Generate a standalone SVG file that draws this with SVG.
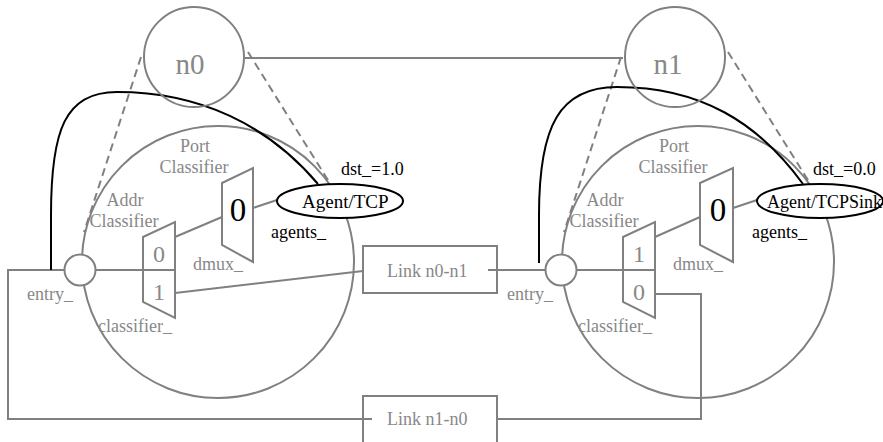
<svg xmlns="http://www.w3.org/2000/svg" width="883" height="442" viewBox="0 0 883 442">
  <style>
    .g { fill: none; stroke: #808080; stroke-width: 2; }
    .gw { fill: #fff; stroke: #808080; stroke-width: 2; }
    .dash { fill: none; stroke: #808080; stroke-width: 2; stroke-dasharray: 8 5; }
    .blk { fill: none; stroke: #000; stroke-width: 2; }
    .agent { fill: #fff; stroke: #000; stroke-width: 2; }
    text { font-size: 18px; }
    .tg { fill: #888; }
    .tb { fill: #000; }
    .node-label { font-size: 29px; fill: #888; text-anchor: middle; }
    .port { font-size: 24px; fill: #888; text-anchor: middle; }
    .slot { font-size: 33px; fill: #000; text-anchor: middle; }
    .mid { text-anchor: middle; }
  </style>

  <!-- expanded node bodies -->
  <g id="node0-body">
    <circle class="g" cx="218" cy="262" r="136"/>
  </g>
  <g id="node1-body">
    <circle class="g" cx="698" cy="262" r="136"/>
  </g>

  <!-- links and wiring -->
  <g id="connectors">
    <!-- n0 to n1 -->
    <line class="g" x1="245" y1="58" x2="623" y2="58"/>
    <!-- expansion guides -->
    <line class="dash" x1="141" y1="57" x2="84" y2="232"/>
    <line class="dash" x1="248" y1="52" x2="331" y2="185"/>
    <line class="dash" x1="621" y1="57" x2="564" y2="232"/>
    <line class="dash" x1="728" y1="52" x2="811" y2="185"/>
    <!-- node 0 internals -->
    <line class="g" x1="95" y1="270" x2="175" y2="270"/>
    <line class="g" x1="175" y1="237" x2="222" y2="217"/>
    <line class="g" x1="253" y1="208" x2="277" y2="200"/>
    <line class="g" x1="175" y1="293" x2="363" y2="271"/>
    <!-- link n0-n1 to entry of node 1 -->
    <line class="g" x1="488" y1="270" x2="545" y2="270"/>
    <!-- node 1 internals -->
    <line class="g" x1="577" y1="270" x2="655" y2="270"/>
    <line class="g" x1="655" y1="237" x2="700" y2="217"/>
    <line class="g" x1="733" y1="208" x2="757" y2="200"/>
    <!-- return path through link n1-n0 -->
    <polyline class="g" points="655,294 701,294 701,419 497,419"/>
    <polyline class="g" points="372,419 8,419 8,270 64,270"/>
    <!-- agent attachment to entry -->
    <path class="blk" d="M51,270 L51,215 C51,130 65,92 117,92 C200,92 268,125 318,184"/>
    <path class="blk" d="M539,263 L539,215 C539,125 560,87 617,87 C700,87 758,122 803,184"/>
  </g>

  <g font-family="'Liberation Serif', 'Times New Roman', 'DejaVu Serif', serif">
  <g id="n0">
    <circle class="g" cx="194" cy="57" r="50"/>
    <text class="node-label" x="190" y="74">n0</text>
  </g>
  <g id="n1">
    <circle class="g" cx="675" cy="57" r="50"/>
    <text class="node-label" x="668" y="74">n1</text>
  </g>

  <g id="link-n0-n1">
    <rect class="g" x="363" y="246" width="134" height="47"/>
    <text class="tg" x="387" y="277">Link n0-n1</text>
  </g>
  <g id="link-n1-n0">
    <rect class="g" x="363" y="396" width="134" height="60"/>
    <text class="tg" x="387" y="425">Link n1-n0</text>
  </g>

  <!-- node 0 parts -->
  <g id="entry0">
    <circle class="gw" cx="80" cy="270" r="15.5"/>
    <text class="tg" x="27" y="300">entry_</text>
  </g>
  <g id="classifier0">
    <polygon class="gw" points="143,237 175,222 175,318 143,302"/>
    <line class="g" x1="143" y1="270" x2="175" y2="270"/>
    <text class="port" x="159" y="262">0</text>
    <text class="port" x="159" y="300">1</text>
    <text class="tg mid" x="125" y="206">Addr</text>
    <text class="tg mid" x="124" y="227">Classifier</text>
    <text class="tg" x="98" y="332">classifier_</text>
  </g>
  <g id="dmux0">
    <polygon class="gw" points="222,183 253,168 253,262 222,245"/>
    <text class="slot" x="238" y="221">0</text>
    <text class="tg mid" x="195" y="152">Port</text>
    <text class="tg mid" x="194" y="173">Classifier</text>
    <text class="tg" x="193" y="270">dmux_</text>
    <text class="tb" x="271" y="238">agents_</text>
  </g>
  <g id="agent0">
    <ellipse class="agent" cx="340" cy="201" rx="63" ry="17"/>
    <text class="tb" x="302" y="208" style="font-size:19px">Agent/TCP</text>
    <text class="tb" x="341" y="175">dst_=1.0</text>
  </g>

  <!-- node 1 parts -->
  <g id="entry1">
    <circle class="gw" cx="561" cy="270" r="15.5"/>
    <text class="tg" x="507" y="300">entry_</text>
  </g>
  <g id="classifier1">
    <polygon class="gw" points="623,237 655,222 655,318 623,302"/>
    <line class="g" x1="623" y1="270" x2="655" y2="270"/>
    <text class="port" x="639" y="262">1</text>
    <text class="port" x="639" y="300">0</text>
    <text class="tg mid" x="605" y="206">Addr</text>
    <text class="tg mid" x="604" y="227">Classifier</text>
    <text class="tg" x="578" y="332">classifier_</text>
  </g>
  <g id="dmux1">
    <polygon class="gw" points="700,183 733,168 733,262 700,245"/>
    <text class="slot" x="718" y="221">0</text>
    <text class="tg mid" x="674" y="152">Port</text>
    <text class="tg mid" x="673" y="173">Classifier</text>
    <text class="tg" x="673" y="270">dmux_</text>
    <text class="tb" x="752" y="238">agents_</text>
  </g>
  <g id="agent1">
    <ellipse class="agent" cx="820" cy="201" rx="63" ry="17"/>
    <text class="tb" x="767" y="208" style="font-size:18px">Agent/TCPSink</text>
    <text class="tb" x="813" y="175">dst_=0.0</text>
  </g>
  </g>
</svg>
